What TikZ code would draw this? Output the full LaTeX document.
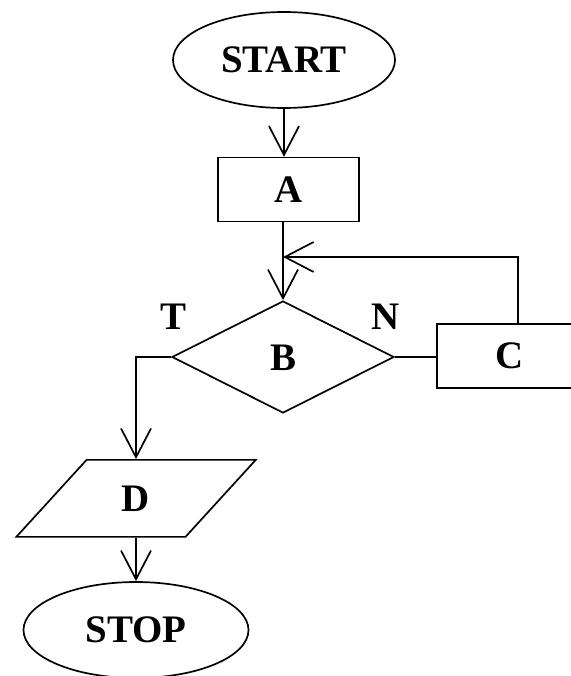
\documentclass[tikz,border=0pt]{standalone}
\usepackage{fontspec}
\setmainfont{Liberation Serif}
\usetikzlibrary{arrows.meta}
\usetikzlibrary{shapes.geometric}

\begin{document}
\begin{tikzpicture}[>={Straight Barb[length=0.72cm,width=0.75cm]}, line width=1.2pt,
    every node/.style={font=\fontsize{27.7}{30}\selectfont\bfseries},
    term/.style={draw, ellipse, minimum width=5.55cm, minimum height=2.4cm, inner sep=0pt},
    proc/.style={draw, rectangle, minimum height=1.6cm, inner sep=0pt},
    dec/.style={draw, diamond, aspect=2, minimum width=5.55cm, minimum height=2.8cm, inner sep=0pt},
    io/.style={draw, trapezium, trapezium left angle=52, trapezium right angle=128,
        trapezium stretches=true, minimum width=6cm, minimum height=1.925cm, inner sep=0pt}]
    \useasboundingbox (0,0) rectangle (14.25,-16.9);

    \node[term] (start) at (7.1,-1.5) {START};
    \node[proc, minimum width=3.525cm] (a) at (7.21,-4.74) {A};
    \node[dec] (b) at (7.075,-8.925) {};
    \node at (7.075,-8.95) (bt) {B};
    \node[proc, minimum width=3.65cm] (c) at (12.75,-8.9) {C};
    \node[io] (d) at (3.4,-12.46) {D};
    \node[term, minimum width=5.625cm] (stop) at (3.4,-15.75) {STOP};

    \node (t) at (4.325,-7.925) {T};
    \node (n) at (9.65,-7.925) {N};

    \coordinate (fb) at (12.95,-6.425);

    \draw[->] (start.south) -- (start.south |- a.north);
    \draw[->] (a.south -| b.north) -- (b.north);
    \draw[->] (c.north -| fb) -- (fb) -- (fb -| b.north);
    \draw (b.east) -- (b.east -| c.west);
    \draw[->] (b.west) -- (b.west -| d.north) -- (d.north);
    \draw[->] (d.south) -- (stop.north);

\end{tikzpicture}
\end{document}
